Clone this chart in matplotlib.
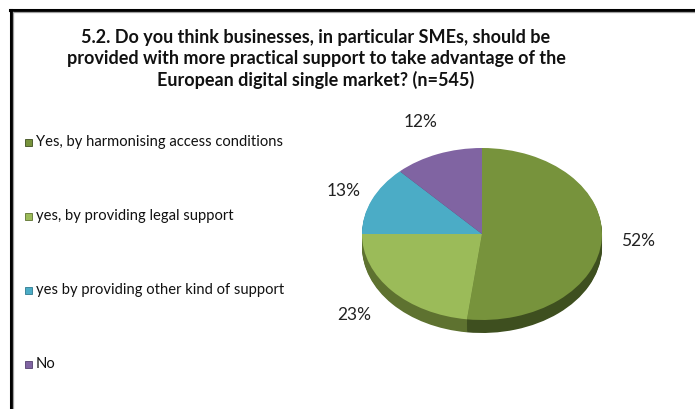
import numpy as np
import matplotlib.pyplot as plt
from matplotlib.lines import Line2D

categories = ["Yes, by harmonising access conditions",
              "yes, by providing legal support",
              "yes by providing other kind of support",
              "No"]
shares = [52, 23, 13, 12]
colors = ["#77933C", "#9BBB59", "#4BACC6", "#8064A2"]
side_colors = ["#3E4F1F", "#5E7230", "#2E7A8F", "#54406E"]
label_dist = [1.30, 1.42, 1.26, 1.40]
title = ("5.2. Do you think businesses, in particular SMEs, should be\n"
         "provided with more practical support to take advantage of the\n"
         "European digital single market? (n=545)")

W, H = 695, 409
fig = plt.figure(figsize=(W / 100, H / 100), dpi=100)
fig.patch.set_facecolor("white")
plt.rcParams["font.family"] = ["Lato", "DejaVu Sans"]

# frame lines (top and left only)
fig.add_artist(Line2D([10 / W, 1], [1 - 9.5 / H, 1 - 9.5 / H], color="black", lw=2.2))
fig.add_artist(Line2D([10 / W, 1], [1 - 11.5 / H, 1 - 11.5 / H], color="#A0A0A0", lw=0.9))
fig.add_artist(Line2D([11 / W, 11 / W], [0, 1 - 9.5 / H], color="black", lw=2.2))
fig.add_artist(Line2D([13 / W, 13 / W], [0, 1 - 11.5 / H], color="#A0A0A0", lw=0.9))

fig.text(316 / W, 1 - 59 / H, title, ha="center", va="center", fontsize=13,
         fontweight="bold", color="#111111", linespacing=1.3)

# legend drawn by hand, one entry every 74 px
for i, (lab, c) in enumerate(zip(categories, colors)):
    y = 1 - (142 + 74 * i) / H
    fig.patches.append(plt.Rectangle((25 / W, y - 3.5 / H), 7 / W, 7 / H,
                                     transform=fig.transFigure, facecolor=c,
                                     edgecolor=side_colors[i], lw=0.6))
    fig.text(36 / W, y, lab, ha="left", va="center", fontsize=10.6,
             color="#111111")

# pie: radius 1 -> 120 px wide, 86 px tall
cx, cy, rx, ry = 482, 234, 120, 86
xl, yl_top, yl_bot = 1.6, 1.6, 1.6
axw, axh = 2 * xl * rx, (yl_top + yl_bot) * ry
ax = fig.add_axes([(cx - xl * rx) / W, (H - cy - yl_bot * ry) / H, axw / W, axh / H])

# side wall: stacked copies shifted down
depth = 13 / ry
steps = 14
for k in range(steps, 0, -1):
    ax.pie(shares, colors=side_colors, startangle=90, counterclock=False,
           center=(0, -depth * k / steps), radius=1, frame=True,
           wedgeprops=dict(linewidth=0))

wedges, texts, autotexts = ax.pie(
    shares, colors=colors, startangle=90, counterclock=False, center=(0, 0),
    radius=1, frame=True, autopct="%d%%", pctdistance=1.38,
    wedgeprops=dict(linewidth=0),
    textprops=dict(fontsize=12.5, color="#222222"))
for w, t, d in zip(wedges, autotexts, label_dist):
    mid = np.deg2rad((w.theta1 + w.theta2) / 2)
    t.set_position((d * np.cos(mid), d * np.sin(mid)))

ax.set_aspect("auto")
ax.set_xlim(-xl, xl)
ax.set_ylim(-yl_bot, yl_top)
ax.axis("off")

fig.savefig("out.png", dpi=100, facecolor="white")
